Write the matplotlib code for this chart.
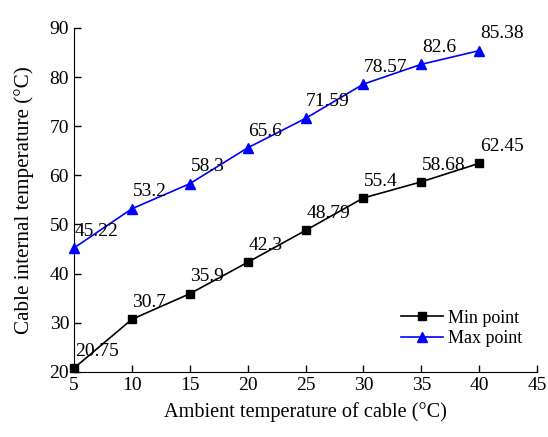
import matplotlib
matplotlib.use("Agg")
import matplotlib.pyplot as plt

plt.rcParams['font.family'] = ['Liberation Serif', 'DejaVu Serif']

ambient = [5, 10, 15, 20, 25, 30, 35, 40]
min_point = [20.75, 30.7, 35.9, 42.3, 48.79, 55.4, 58.68, 62.45]
max_point = [45.22, 53.2, 58.3, 65.6, 71.59, 78.57, 82.6, 85.38]
min_labels = ["20.75", "30.7", "35.9", "42.3", "48.79", "55.4", "58.68", "62.45"]
max_labels = ["45.22", "53.2", "58.3", "65.6", "71.59", "78.57", "82.6", "85.38"]

fig = plt.figure(figsize=(5.48, 4.37), dpi=100)
ax = fig.add_axes([0.135, 0.149, 0.845, 0.787])

ax.plot(ambient, min_point, color='black', marker='s', markersize=5.6,
        linewidth=1.2, label='Min point', clip_on=False, zorder=3)
ax.plot(ambient, max_point, color='blue', marker='^', markersize=7.5,
        linewidth=1.2, label='Max point', clip_on=False, zorder=3)

# value labels just above and to the right of each point
for xs, ys, labs in ((ambient, min_point, min_labels), (ambient, max_point, max_labels)):
    for x, y, t in zip(xs, ys, labs):
        ax.annotate(t, (x, y), xytext=(0.5, 6), textcoords='offset points',
                    ha='left', va='bottom', fontsize=14, annotation_clip=False)

ax.set_xlim(5, 45)
ax.set_ylim(20, 90)
ax.set_xticks(range(5, 46, 5))
ax.set_yticks(range(20, 91, 10))
ax.spines['top'].set_visible(False)
ax.spines['right'].set_visible(False)
ax.tick_params(direction='in', length=5, labelsize=14, width=1)

ax.set_xlabel('Ambient temperature of cable (°C)', fontsize=14.6, labelpad=6)
ax.set_ylabel('Cable internal temperature (°C)', fontsize=15.2, labelpad=11)

fig.legend(handles=ax.get_lines(), loc='center left',
           bbox_to_anchor=(0.732, 0.248), bbox_transform=fig.transFigure,
           frameon=False, fontsize=13, handlelength=2.3, handletextpad=0.28,
           labelspacing=0.2, borderpad=0, borderaxespad=0)

fig.savefig('out.png', dpi=100)
